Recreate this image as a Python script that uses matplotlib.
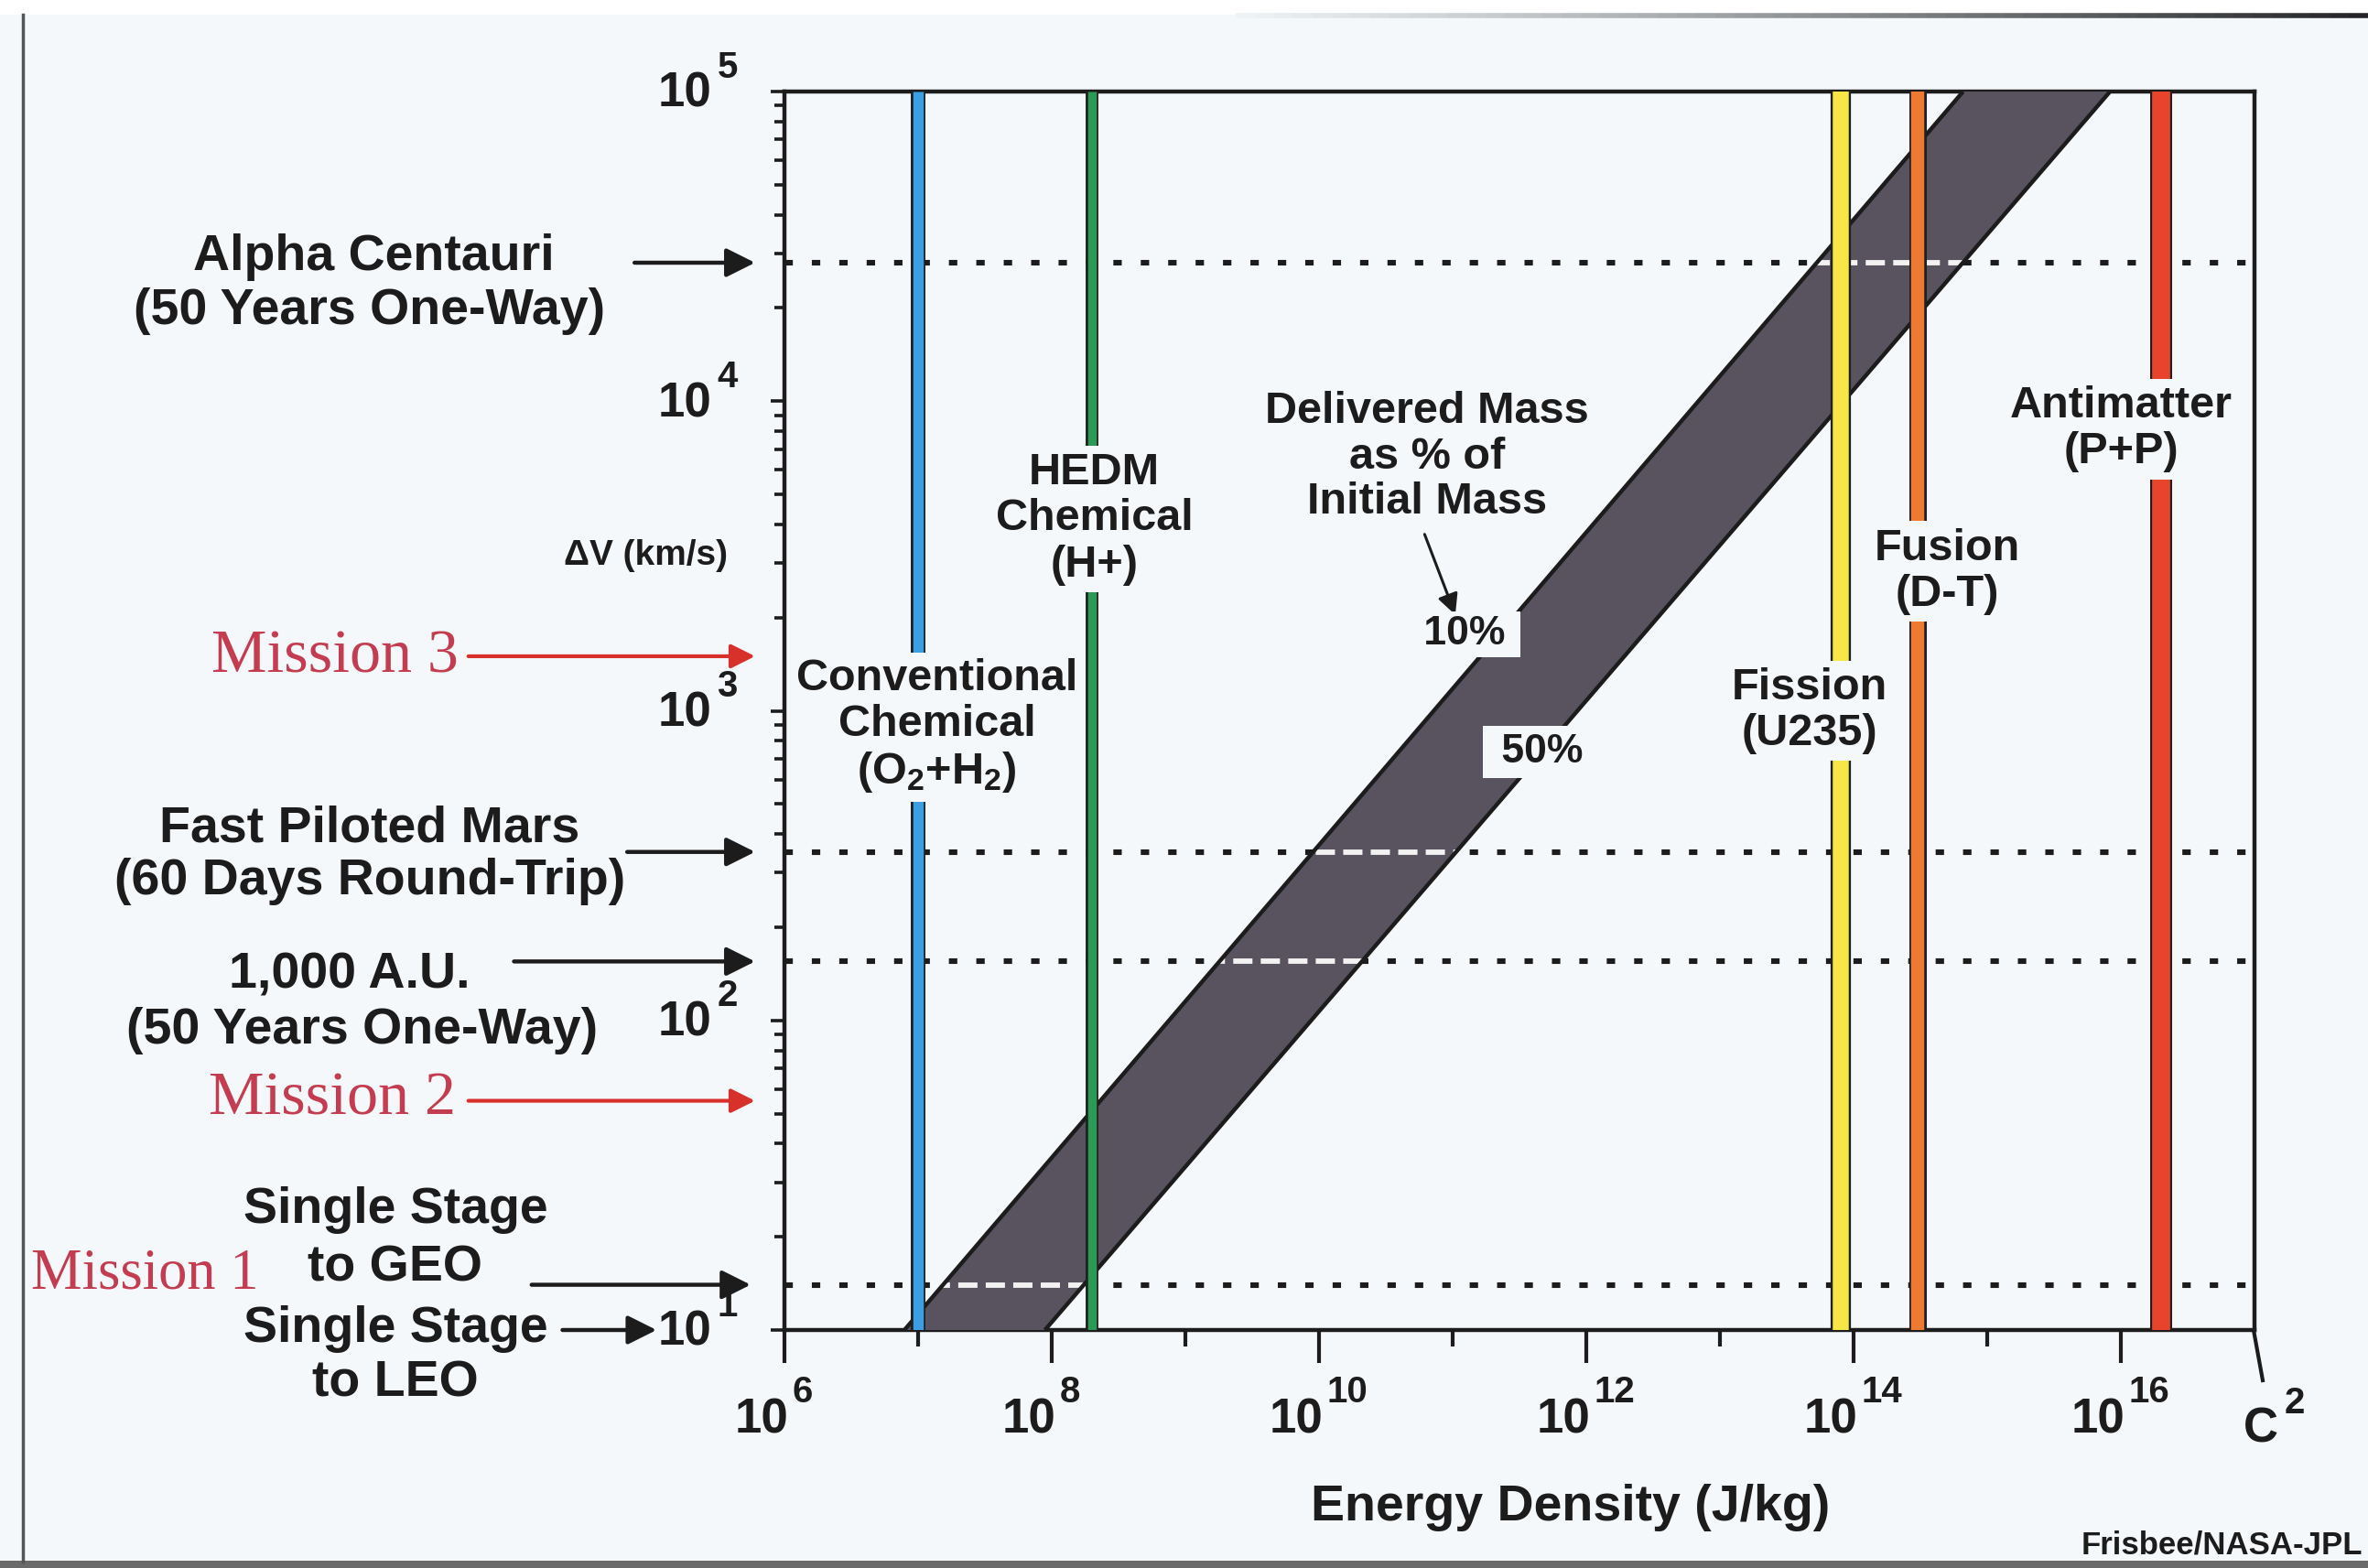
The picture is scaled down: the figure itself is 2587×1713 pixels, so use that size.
import numpy as np
import matplotlib
matplotlib.use("Agg")
import matplotlib.pyplot as plt
from matplotlib.lines import Line2D
from matplotlib.patches import Polygon, Rectangle
from matplotlib.collections import LineCollection
from matplotlib.ticker import FixedLocator, LogLocator, NullFormatter

plt.rcParams["font.family"] = ["Liberation Sans", "DejaVu Sans"]
plt.rcParams["font.weight"] = "bold"
plt.rcParams["mathtext.fontset"] = "custom"
plt.rcParams["mathtext.rm"] = "Liberation Sans:bold"
plt.rcParams["mathtext.it"] = "Liberation Sans:bold"
plt.rcParams["mathtext.bf"] = "Liberation Sans:bold"

# ---------------- data ----------------
# propulsion technologies: specific energy (J/kg)
tech_labels = ["Conventional\nChemical\n(O$_2$+H$_2$)", "HEDM\nChemical\n(H+)",
               "Fission\n(U235)", "Fusion\n(D-T)", "Antimatter\n(P+P)"]
tech_energy = [1.0e7, 2.0e8, 8.0e13, 3.0e14, 2.0e16]

# delivered-mass band edges (energy density J/kg at dV = 10 and 1e5 km/s)
band_dv = [10, 1e5]
band_e_10pct = [7.9e6, 6.6e14]
band_e_50pct = [8.9e7, 8.3e15]

# reference missions (km/s)
mission_labels = ["Alpha Centauri\n(50 Years One-Way)", "Fast Piloted Mars\n(60 Days Round-Trip)",
                  "1,000 A.U.\n(50 Years One-Way)", "Single Stage\nto GEO"]
mission_dv = [2.8e4, 350, 155, 14]
leo_label = "Single Stage\nto LEO"
leo_dv = 10

red_missions = ["Mission 3", "Mission 2", "Mission 1"]
red_mission_dv = [1500, 55, 14]

x_major_exp = [6, 8, 10, 12, 14, 16]
x_minor_exp = [7, 9, 11, 13, 15]
y_major_exp = [1, 2, 3, 4, 5]

# ---------------- style ----------------
W, H = 2587, 1713
BG = "#f5f8fb"
INK = "#1c1c1c"
RED_TXT = "#c43c50"
RED_ARROW = "#d8302a"
BAND = "#58535f"
tech_colors = ["#3c9fe4", "#2b9a55", "#f6e646", "#ee7933", "#e8432b"]
tech_total_w = [11.5, 10.0, 16.0, 13.7, 17.3]
tech_inner_w = [8.2, 6.8, 12.6, 10.4, 14.2]

LABEL_FS = 40
INNER_FS = 35

fig = plt.figure(figsize=(W / 100, H / 100), dpi=100)
fig.patch.set_facecolor(BG)


def fpx(x, y):
    return x / W, 1 - y / H


L, R, T, B = 857, 2463, 100, 1453
ax = fig.add_axes([L / W, 1 - B / H, (R - L) / W, (B - T) / H])
ax.set_facecolor(BG)
ax.set_xscale("log")
ax.set_yscale("log")
ax.set_xlim(1e6, 1e17)
ax.set_ylim(10, 1e5)

for s in ax.spines.values():
    s.set_linewidth(3.2)
    s.set_color(INK)

ax.xaxis.set_major_locator(FixedLocator([10.0 ** e for e in x_major_exp]))
ax.xaxis.set_minor_locator(FixedLocator([10.0 ** e for e in x_minor_exp]))
ax.yaxis.set_major_locator(LogLocator(base=10, numticks=10))
ax.yaxis.set_minor_locator(LogLocator(base=10, subs=np.arange(2, 10), numticks=20))
ax.tick_params(axis="x", which="major", direction="out", length=26, width=3, color=INK,
               labelbottom=False)
ax.tick_params(axis="x", which="minor", direction="out", length=13, width=3, color=INK,
               labelbottom=False)
ax.tick_params(axis="y", which="major", direction="out", length=11, width=2.6, color=INK,
               labelleft=False)
ax.tick_params(axis="y", which="minor", direction="out", length=8, width=2.6, color=INK,
               labelleft=False)
ax.xaxis.set_minor_formatter(NullFormatter())
ax.yaxis.set_minor_formatter(NullFormatter())

# power-of-ten tick labels
for e in y_major_exp:
    ax.annotate("10", xy=(0, 10.0 ** e), xycoords=("axes fraction", "data"),
                xytext=(-57, -2), textcoords="offset points", ha="right", va="center",
                fontsize=38, color=INK, annotation_clip=False)
    ax.annotate(str(e), xy=(0, 10.0 ** e), xycoords=("axes fraction", "data"),
                xytext=(-53, 19), textcoords="offset points", ha="left", va="center",
                fontsize=29, color=INK, annotation_clip=False)
for e in x_major_exp:
    ax.annotate("10", xy=(10.0 ** e, 0), xycoords=("data", "axes fraction"),
                xytext=(3.5, -71), textcoords="offset points", ha="right", va="center",
                fontsize=38, color=INK, annotation_clip=False)
    ax.annotate(str(e), xy=(10.0 ** e, 0), xycoords=("data", "axes fraction"),
                xytext=(6, -49), textcoords="offset points", ha="left", va="center",
                fontsize=29, color=INK, annotation_clip=False)

# speed-of-light end of the energy axis
fig.add_artist(Line2D([2462 / W, 2472 / W], [1 - 1453 / H, 1 - 1508 / H],
                      color=INK, lw=3, transform=fig.transFigure))
fig.text(*fpx(2470, 1561), "C", fontsize=38, ha="center", va="center", color=INK)
fig.text(*fpx(2507, 1533), "2", fontsize=29, ha="center", va="center", color=INK)

# mission reference lines (black dots)
for dv in mission_dv:
    ax.axhline(dv, color=INK, lw=4.4, linestyle=(0, (1.5, 3.4)), zorder=2)

# delivered mass band
band_poly = Polygon([(band_e_10pct[0], band_dv[0]), (band_e_10pct[1], band_dv[1]),
                     (band_e_50pct[1], band_dv[1]), (band_e_50pct[0], band_dv[0])],
                    closed=True, facecolor=BAND, edgecolor="none", zorder=3)
ax.add_patch(band_poly)
for dv in mission_dv:
    wl = ax.axhline(dv, color="#f2f2f2", lw=4.2, linestyle=(3.5, (3.6, 1.55)), zorder=4)
    wl.set_clip_path(band_poly)
ax.plot(band_e_10pct, band_dv, color=INK, lw=3.2, zorder=5, solid_capstyle="butt")
ax.plot(band_e_50pct, band_dv, color=INK, lw=3.2, zorder=5, solid_capstyle="butt")

# technology lines
for e, c, tw, iw in zip(tech_energy, tech_colors, tech_total_w, tech_inner_w):
    ax.axvline(e, color="#202020", lw=tw, zorder=6, solid_capstyle="butt")
    ax.axvline(e, color=c, lw=iw, zorder=6.1, solid_capstyle="butt")

# technology labels (positions in energy / dV)
tech_label_pos = [(10 ** 7.14, 10 ** 2.95), (10 ** 8.32, 10 ** 3.62), (10 ** 13.67, 10 ** 3.0),
                  (10 ** 14.70, 10 ** 3.45), (10 ** 16.0, 10 ** 3.91)]
for lab, (xe, yv) in zip(tech_labels, tech_label_pos):
    ax.text(xe, yv, lab, ha="center", va="center", fontsize=INNER_FS, color=INK,
            linespacing=1.15, zorder=8,
            bbox=dict(boxstyle="square,pad=0.15", facecolor=BG, edgecolor="none"))

ax.text(10 ** 10.81, 10 ** 3.82, "Delivered Mass\nas % of\nInitial Mass", ha="center",
        va="center", fontsize=INNER_FS, color=INK, linespacing=1.12, zorder=8)
ax.annotate("", xy=(10 ** 11.02, 10 ** 3.31), xytext=(10 ** 10.79, 10 ** 3.57),
            arrowprops=dict(arrowstyle="-|>", color=INK, lw=2.2, mutation_scale=34,
                            shrinkA=0, shrinkB=0), zorder=8)
ax.text(10 ** 11.09, 10 ** 3.247, " 10% ", ha="center", va="center", fontsize=32,
        color=INK, zorder=9,
        bbox=dict(boxstyle="square,pad=0.1", facecolor=BG, edgecolor="none"))
ax.text(10 ** 11.67, 10 ** 2.866, " 50% ", ha="center", va="center", fontsize=32,
        color=INK, zorder=9,
        bbox=dict(boxstyle="square,pad=0.18", facecolor=BG, edgecolor="none"))

# axis titles
fig.text(*fpx(706, 607), "ΔV (km/s)", fontsize=28, ha="center", va="center", color=INK)
fig.text(*fpx(1716, 1647), "Energy Density (J/kg)", fontsize=40, ha="center",
         va="center", color=INK)
fig.text(*fpx(2274, 1688), "Frisbee/NASA-JPL", fontsize=25, ha="left", va="center",
         color=INK)

# mission labels with arrows to the dV axis (each label line placed separately)
mission_text_pos = [[(408, 281), (404, 340)], [(404, 905), (404, 963)],
                    [(382, 1065), (396, 1126)], [(432, 1322), (432, 1386)]]
mission_arrow_x = [(-0.102, -0.02), (-0.107, -0.02), (-0.184, -0.02), (-0.172, -0.023)]
for lab, dv, line_pos, (x0, x1) in zip(mission_labels, mission_dv, mission_text_pos,
                                        mission_arrow_x):
    for line, (tx, ty) in zip(lab.split("\n"), line_pos):
        fig.text(*fpx(tx, ty), line, fontsize=LABEL_FS, ha="center", va="center", color=INK)
    ax.annotate("", xy=(x1, dv), xycoords=("axes fraction", "data"),
                xytext=(x0, dv), textcoords=("axes fraction", "data"),
                arrowprops=dict(arrowstyle="-|>", color=INK, lw=3.2, mutation_scale=48,
                                shrinkA=0, shrinkB=0), annotation_clip=False)

for line, ty in zip(leo_label.split("\n"), [1452, 1512]):
    fig.text(*fpx(432, ty), line, fontsize=LABEL_FS, ha="center", va="center", color=INK)
ax.annotate("", xy=(-0.087, leo_dv), xycoords=("axes fraction", "data"),
            xytext=(-0.151, leo_dv), textcoords=("axes fraction", "data"),
            arrowprops=dict(arrowstyle="-|>", color=INK, lw=3.2, mutation_scale=48,
                            shrinkA=0, shrinkB=0), annotation_clip=False)

# highlighted missions
red_text_pos = [(366, 718), (363, 1201), (158, 1392)]
red_text_fs = [49, 49, 45]
red_arrow_x = [(-0.215, -0.02), (-0.215, -0.02), None]
for lab, dv, (tx, ty), fs, ax_x in zip(red_missions, red_mission_dv, red_text_pos,
                                       red_text_fs, red_arrow_x):
    fig.text(*fpx(tx, ty), lab, fontsize=fs, ha="center", va="center", color=RED_TXT,
             family=["Liberation Serif", "DejaVu Serif"], fontweight="normal")
    if ax_x is not None:
        ax.annotate("", xy=(ax_x[1], dv), xycoords=("axes fraction", "data"),
                    xytext=(ax_x[0], dv), textcoords=("axes fraction", "data"),
                    arrowprops=dict(arrowstyle="-|>", color=RED_ARROW, lw=3.0,
                                    mutation_scale=40, shrinkA=0, shrinkB=0),
                    annotation_clip=False)

# page frame
fig.add_artist(Rectangle((0, 1 - 16 / H), 1, 16 / H, transform=fig.transFigure,
                         facecolor="white", edgecolor="none", zorder=0))
fig.add_artist(Line2D([25 / W, 25 / W], [1 - 16 / H, 1 - 1706 / H], color="#555555",
                      lw=2.5, transform=fig.transFigure))
fig.add_artist(Rectangle((0, 0), 1, 8 / H, transform=fig.transFigure,
                         facecolor="#6a6a6a", edgecolor="none"))
xs = np.linspace(1350, W, 60)
segs = [[(a / W, 1 - 17 / H), (b / W, 1 - 17 / H)] for a, b in zip(xs[:-1], xs[1:])]
shade = np.clip((xs[:-1] - 1350) / (W - 1350), 0, 1) ** 1.1
cols = [(0.93 - 0.8 * s, 0.95 - 0.82 * s, 0.96 - 0.82 * s) for s in shade]
fig.add_artist(LineCollection(segs, colors=cols, linewidths=4, transform=fig.transFigure))

fig.savefig("out.png", dpi=100, facecolor=fig.get_facecolor())
